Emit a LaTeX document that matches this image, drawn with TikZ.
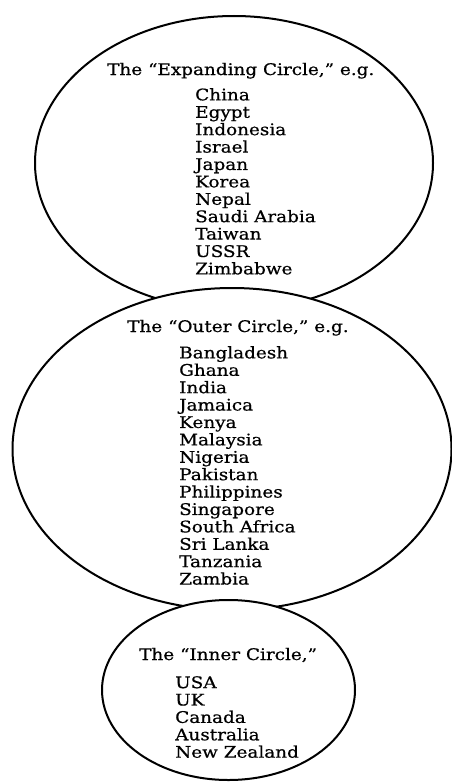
\documentclass[tikz,border=0pt]{standalone}
\usepackage{fontspec}
\setmainfont[FakeStretch=1.15, FakeBold=0.6]{DejaVu Serif}
\usetikzlibrary{shapes.geometric, positioning}

\begin{document}
\begin{tikzpicture}[
  x=1pt, y=1pt,
  circlebox/.style={
    ellipse, draw=black, fill=white, line width=2pt, inner sep=0pt
  },
  headtext/.style={
    anchor=base west, inner sep=0pt, font=\fontsize{16}{17.4}\selectfont
  },
  listtext/.style={
    anchor=north west, inner sep=0pt, align=left,
    font=\fontsize{16}{17.4}\selectfont
  }
]
  \useasboundingbox (0,0) rectangle (452,-784);

  % the three circles, drawn outermost first
  \node[circlebox, minimum width=398pt, minimum height=294pt] (expanding) at (234,-163) {};
  \node[circlebox, minimum width=439pt, minimum height=322pt] (outer) at (232,-449) {};
  \node[circlebox, minimum width=253pt, minimum height=180pt] (inner) at (228.5,-690) {};

  % Expanding Circle
  \node[headtext] (expandinghead) at (107,-75) {The “Expanding Circle,” e.g.};
  \node[listtext] (expandinglist) at (195,-88) {
    China\\ Egypt\\ Indonesia\\ Israel\\ Japan\\ Korea\\
    Nepal\\ Saudi Arabia\\ Taiwan\\ USSR\\ Zimbabwe
  };

  % Outer Circle
  \node[headtext] (outerhead) at (127,-332) {The “Outer Circle,” e.g.};
  \node[listtext] (outerlist) at (179,-346) {
    Bangladesh\\ Ghana\\ India\\ Jamaica\\ Kenya\\ Malaysia\\ Nigeria\\
    Pakistan\\ Philippines\\ Singapore\\ South Africa\\ Sri Lanka\\
    Tanzania\\ Zambia
  };

  % Inner Circle
  \node[headtext] (innerhead) at (139,-660) {The “Inner Circle,”};
  \node[listtext] (innerlist) at (175,-676) {
    USA\\ UK\\ Canada\\ Australia\\ New Zealand
  };
\end{tikzpicture}
\end{document}
